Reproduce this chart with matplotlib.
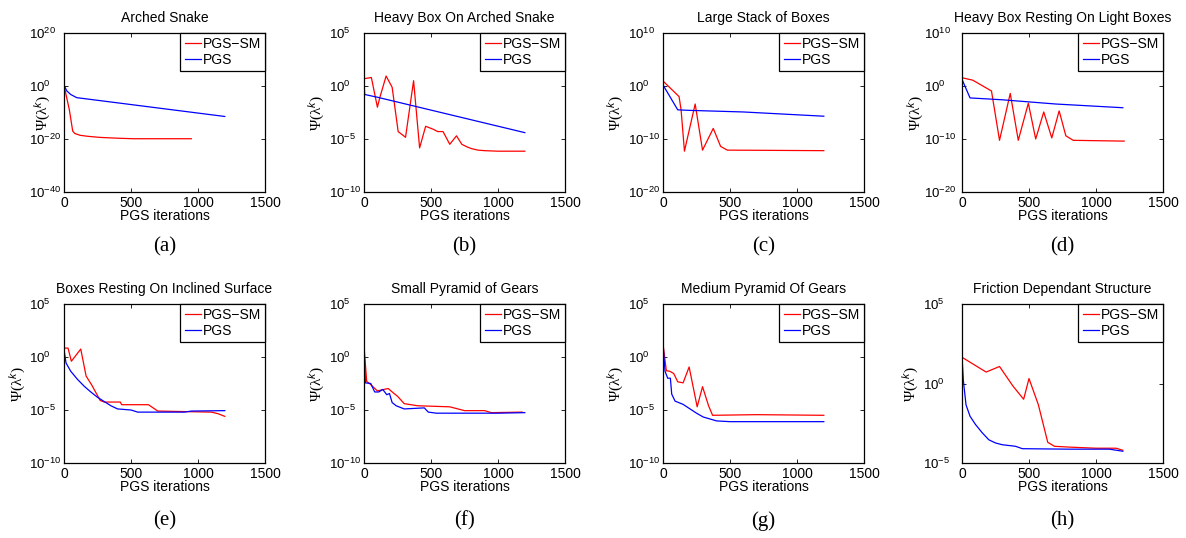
import matplotlib
matplotlib.use('Agg')
import matplotlib.pyplot as plt
import numpy as np

plt.rcParams['font.family'] = ['Liberation Sans', 'DejaVu Sans']
plt.rcParams['mathtext.fontset'] = 'custom'
plt.rcParams['mathtext.rm'] = 'Liberation Sans'
plt.rcParams['mathtext.it'] = 'Liberation Sans:italic'

# panel titles, captions, y-ticks (decades)
titles = ['Arched Snake', 'Heavy Box On Arched Snake', 'Large Stack of Boxes',
          'Heavy Box Resting On Light Boxes', 'Boxes Resting On Inclined Surface',
          'Small Pyramid of Gears', 'Medium Pyramid Of Gears', 'Friction Dependant Structure']
captions = ['(a)', '(b)', '(c)', '(d)', '(e)', '(f)', '(g)', '(h)']
ydecades = [[-40, -20, 0, 20], [-10, -5, 0, 5], [-20, -10, 0, 10], [-20, -10, 0, 10],
            [-10, -5, 0, 5], [-10, -5, 0, 5], [-10, -5, 0, 5], [-5, 0, 5]]

# log10(psi), per panel: (iterations, values)
a_sm_it = [0, 40, 65, 80, 120, 180, 270, 400, 520, 700, 950]
a_sm_lg = [0.2, -9.0, -17.0, -17.9, -18.6, -19.0, -19.4, -19.7, -19.9, -19.9, -19.9]
a_pgs_it = [0, 20, 50, 95, 1200]
a_pgs_lg = [0.4, -1.8, -3.2, -4.4, -11.5]

b_sm_it = [0, 55, 100, 120, 165, 210, 255, 310, 370, 415, 460, 520, 550, 590, 640, 690,
           730, 770, 800, 850, 900, 1000, 1200]
b_sm_lg = [0.69, 0.8, -2.0, -1.0, 0.94, -0.12, -4.3, -4.84, 0.5, -5.84, -3.8, -4.1, -4.3,
           -4.3, -5.5, -4.7, -5.5, -5.75, -5.9, -6.05, -6.1, -6.15, -6.15]
b_pgs_it = [0, 5, 100, 1200]
b_pgs_lg = [0.7, -0.8, -1.06, -4.4]

c_sm_it = [0, 120, 135, 160, 240, 295, 375, 430, 480, 1200]
c_sm_lg = [0.94, -2.0, -4.5, -12.3, -3.4, -12.1, -8.0, -11.4, -12.1, -12.2]
c_pgs_it = [0, 110, 200, 600, 1200]
c_pgs_lg = [0.2, -4.5, -4.6, -4.9, -5.7]

d_sm_it = [0, 80, 220, 280, 360, 420, 495, 550, 610, 670, 725, 775, 830, 1210]
d_sm_lg = [1.56, 1.1, -0.94, -10.25, -1.4, -10.25, -3.25, -10.0, -4.9, -9.8, -4.7, -9.4,
           -10.25, -10.4]
d_pgs_it = [0, 60, 300, 700, 1200]
d_pgs_lg = [1.25, -2.25, -2.6, -3.4, -4.1]

e_sm_it = [0, 30, 55, 125, 165, 205, 270, 300, 420, 430, 630, 700, 1100, 1150, 1200]
e_sm_lg = [0.84, 0.84, -0.4, 0.75, -1.8, -2.6, -4.1, -4.25, -4.25, -4.5, -4.5, -5.1,
           -5.2, -5.35, -5.6]
e_pgs_it = [0, 15, 50, 100, 150, 200, 250, 300, 350, 400, 500, 550, 900, 950, 1200]
e_pgs_lg = [0.7, -0.56, -1.34, -2.1, -2.75, -3.3, -3.8, -4.2, -4.6, -4.9, -5.0, -5.2,
            -5.2, -5.1, -5.06]

f_sm_it = [0, 20, 50, 100, 180, 220, 250, 300, 400, 640, 750, 900, 950, 1180]
f_sm_lg = [1.06, -2.3, -2.6, -3.2, -2.97, -3.4, -3.7, -4.4, -4.6, -4.7, -5.06, -5.06,
           -5.25, -5.2]
f_pgs_it = [0, 10, 50, 80, 110, 140, 170, 190, 210, 240, 300, 450, 480, 540, 1000, 1200]
f_pgs_lg = [1.06, -2.44, -2.5, -3.3, -3.3, -3.06, -3.56, -3.44, -4.3, -4.6, -4.9, -4.8,
            -5.2, -5.3, -5.3, -5.25]

g_sm_it = [0, 25, 50, 80, 110, 150, 195, 255, 295, 340, 370, 700, 1200]
g_sm_lg = [1.25, -1.3, -1.34, -1.56, -2.34, -2.44, -0.94, -4.7, -2.8, -4.6, -5.5, -5.44,
           -5.5]
g_pgs_it = [0, 15, 35, 55, 65, 90, 150, 250, 300, 400, 500, 1200]
g_pgs_lg = [1.25, -1.34, -2.0, -2.0, -3.5, -4.16, -4.47, -5.3, -5.66, -6.03, -6.1, -6.1]

h_sm_it = [0, 180, 280, 380, 460, 500, 570, 640, 690, 800, 1000, 1150, 1200]
h_sm_lg = [1.65, 0.72, 1.07, -0.16, -0.99, 0.31, -1.34, -3.7, -3.95, -4.0, -4.07, -4.07,
           -4.2]
h_pgs_it = [0, 10, 30, 60, 100, 150, 200, 250, 300, 400, 450, 800, 1100, 1200]
h_pgs_lg = [1.69, 0.2, -1.34, -2.06, -2.57, -3.09, -3.54, -3.74, -3.85, -3.95, -4.1,
            -4.13, -4.13, -4.26]

series = [(a_sm_it, a_sm_lg, a_pgs_it, a_pgs_lg), (b_sm_it, b_sm_lg, b_pgs_it, b_pgs_lg),
          (c_sm_it, c_sm_lg, c_pgs_it, c_pgs_lg), (d_sm_it, d_sm_lg, d_pgs_it, d_pgs_lg),
          (e_sm_it, e_sm_lg, e_pgs_it, e_pgs_lg), (f_sm_it, f_sm_lg, f_pgs_it, f_pgs_lg),
          (g_sm_it, g_sm_lg, g_pgs_it, g_pgs_lg), (h_sm_it, h_sm_lg, h_pgs_it, h_pgs_lg)]

W, H = 1186, 538
fig = plt.figure(figsize=(W / 100, H / 100), dpi=100)
lefts = [64, 364, 663, 962]
tops = [33, 304]
aw, ah = 201, 159
# y-label and y-tick-label offsets from the left spine, pixels
ylab_dx = [-11, -37, -37, -36, -36, -37, -37, -41]
ytl_dx = [31, 31, 32, 38, 31, 31, 31, 39]

axes = []
for i in range(8):
    row, col = i // 4, i % 4
    ax = fig.add_axes([lefts[col] / W, 1 - (tops[row] + ah) / H, aw / W, ah / H])
    sm_it, sm_lg, pgs_it, pgs_lg = series[i]
    ax.semilogy(sm_it, 10.0 ** np.array(sm_lg), color='red', lw=0.9, label='PGS\u2212SM')
    ax.semilogy(pgs_it, 10.0 ** np.array(pgs_lg), color='blue', lw=0.9, label='PGS')
    dec = ydecades[i]
    ax.set_ylim(10.0 ** dec[0], 10.0 ** dec[-1])
    ax.set_yticks([10.0 ** d for d in dec])
    ax.yaxis.set_minor_locator(matplotlib.ticker.NullLocator())
    ax.set_xlim(0, 1500)
    ax.set_xticks([0, 500, 1000, 1500])
    ax.tick_params(direction='in', top=True, right=True, labelsize=10, length=3,
                   width=0.6, pad=3)
    ax.tick_params(axis='y', labelsize=9.5)
    for s in ax.spines.values():
        s.set_linewidth(0.9)
    ax.set_title(titles[i], fontsize=10, pad=8)
    ax.set_xlabel('PGS iterations', fontsize=10, labelpad=-1)
    ax.set_ylabel('\u03a8(\u03bb$^{k}$)', fontsize=11, family='Liberation Serif')
    ax.yaxis.set_label_coords(ylab_dx[i] / aw, 0.5)
    leg = ax.legend(loc='upper right', fontsize=10, borderaxespad=0, handlelength=1.2,
                    handletextpad=0.1, borderpad=0.3, labelspacing=0.15, fancybox=False,
                    framealpha=1)
    leg.get_frame().set_edgecolor('black')
    leg.get_frame().set_linewidth(0.9)
    cy = [247, 521][row]
    fig.text((lefts[col] + aw / 2) / W, 1 - cy / H, captions[i], ha='center', va='center',
             fontsize=15, family='Liberation Serif')
    axes.append(ax)

# y tick labels start at a common x (left aligned), kept clear of the spine
fig.canvas.draw()
rend = fig.canvas.get_renderer()
for i, ax in enumerate(axes):
    labs = ax.get_yticklabels()
    widest = max(l.get_window_extent(rend).width for l in labs)
    dx = max(ytl_dx[i], widest + 3)
    ax.tick_params(axis='y', pad=dx * 0.72)
    for l in ax.get_yticklabels():
        l.set_horizontalalignment('left')

fig.savefig('out.png', dpi=100)
